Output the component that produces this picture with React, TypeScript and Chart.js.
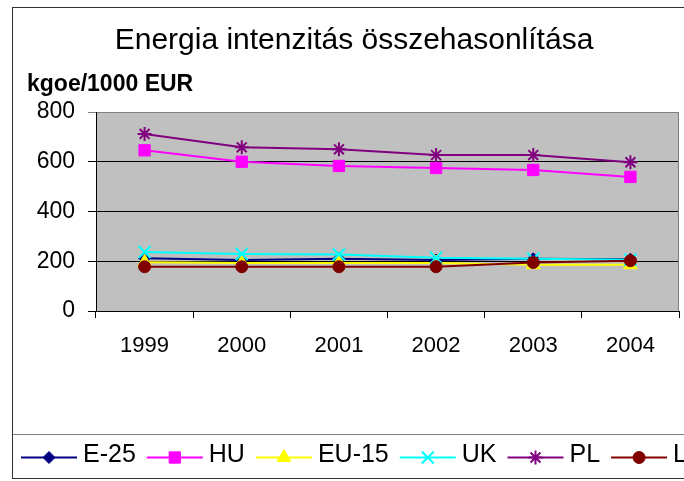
import React, { useEffect, useRef } from 'react';
import { Chart, registerables } from 'chart.js';
import { drawPoint } from 'chart.js/helpers';

Chart.register(...registerables);

// ---- data ----
const years = ['1999', '2000', '2001', '2002', '2003', '2004'];
const e25 = [212, 205, 210, 205, 210, 208];
const hu = [646, 600, 583, 575, 567, 539];
const eu15 = [196, 193, 193, 193, 186, 186];
const uk = [237, 229, 227, 214, 210, 206];
const pl = [712, 658, 650, 627, 627, 598];
const lu = [178, 178, 178, 178, 195, 202];
const seriesNames = ['E-25', 'HU', 'EU-15', 'UK', 'PL', 'L'];
const yMin = 0;
const yMax = 800;
const yStep = 200;
const chartTitle = 'Energia intenzitás összehasonlítása';
const yUnit = 'kgoe/1000 EUR';

// ---- styles ----
const FONT = '"Liberation Sans", Arial, Helvetica, sans-serif';
const W = 700;
const H = 481;
const seriesColors = ['#000080', '#FF00FF', '#FFFF00', '#00FFFF', '#800080', '#800000'];
const seriesPointStyles = ['rectRot', 'rect', 'triangle', 'crossRot', 'star', 'circle'];
const seriesPointRadius = [6, 8, 8, 8.5, 7, 6];
const seriesPointBorder = [1, 1, 1, 2, 2, 1];

const decorPlugin = {
  id: 'decor',
  beforeDraw(chart: any) {
    const { ctx, chartArea: a } = chart;
    ctx.save();
    ctx.fillStyle = '#ffffff';
    ctx.fillRect(0, 0, chart.width, chart.height);
    ctx.fillStyle = '#c0c0c0';
    ctx.fillRect(a.left, a.top, a.right - a.left, a.bottom - a.top);
    ctx.restore();
  },
  beforeDatasetsDraw(chart: any) {
    const { ctx, chartArea: a } = chart;
    ctx.save();
    ctx.strokeStyle = '#808080';
    ctx.lineWidth = 1;
    ctx.beginPath();
    ctx.moveTo(Math.round(a.right) - 0.5, a.top);
    ctx.lineTo(Math.round(a.right) - 0.5, a.bottom);
    ctx.stroke();
    ctx.restore();
  },
  afterDraw(chart: any) {
    const { ctx } = chart;
    ctx.save();
    // title
    ctx.fillStyle = '#000';
    ctx.textAlign = 'center';
    ctx.textBaseline = 'alphabetic';
    ctx.font = `30px ${FONT}`;
    ctx.fillText(chartTitle, 354, 49);
    // unit
    ctx.textAlign = 'left';
    ctx.font = `bold 23px ${FONT}`;
    ctx.fillText(yUnit, 27, 91);

    // legend box top line
    ctx.strokeStyle = '#808080';
    ctx.lineWidth = 1;
    ctx.beginPath();
    ctx.moveTo(12, 434.5);
    ctx.lineTo(chart.width, 434.5);
    ctx.stroke();

    // legend items
    const ly = 457.5;
    let x = 21;
    ctx.font = `25px ${FONT}`;
    chart.data.datasets.forEach((ds: any) => {
      ctx.strokeStyle = ds.borderColor;
      ctx.lineWidth = 2;
      ctx.beginPath();
      ctx.moveTo(x, ly);
      ctx.lineTo(x + 56, ly);
      ctx.stroke();
      ctx.fillStyle = ds.pointBackgroundColor;
      ctx.strokeStyle = ds.pointBorderColor;
      ctx.lineWidth = ds.pointBorderWidth;
      drawPoint(ctx, { pointStyle: ds.pointStyle, radius: ds.pointRadius, rotation: 0, borderWidth: ds.pointBorderWidth }, x + 28, ly);
      ctx.fillStyle = '#000';
      ctx.textAlign = 'left';
      ctx.fillText(ds.label, x + 62, 462);
      x += 62 + ctx.measureText(ds.label).width + 11;
    });

    // outer border
    ctx.strokeStyle = '#333333';
    ctx.lineWidth = 1;
    ctx.strokeRect(12.5, 7.5, chart.width + 20, 471);
    ctx.restore();
  },
};

export default function App() {
  const ref = useRef<HTMLCanvasElement | null>(null);

  useEffect(() => {
    if (!ref.current) return;
    const seriesValues = [e25, hu, eu15, uk, pl, lu];
    const chart = new Chart(ref.current, {
      type: 'line',
      data: {
        labels: years,
        datasets: seriesValues.map((vals, i) => ({
          label: seriesNames[i],
          data: vals,
          borderColor: seriesColors[i],
          backgroundColor: seriesColors[i],
          borderWidth: 2,
          pointStyle: seriesPointStyles[i],
          pointRadius: seriesPointRadius[i],
          pointBackgroundColor: seriesColors[i],
          pointBorderColor: seriesColors[i],
          pointBorderWidth: seriesPointBorder[i],
          tension: 0,
          fill: false,
          order: seriesValues.length - i,
        })),
      },
      plugins: [decorPlugin],
      options: {
        animation: false,
        responsive: false,
        devicePixelRatio: 1,
        layout: { padding: { top: 112, left: 0, right: W - 679, bottom: 0 } },
        plugins: {
          legend: { display: false },
          title: { display: false },
          tooltip: { enabled: false },
        },
        scales: {
          x: {
            type: 'category',
            offset: true,
            grid: {
              offset: true,
              drawOnChartArea: false,
              drawTicks: true,
              tickLength: 7,
              color: '#000000',
            },
            border: { display: true, color: '#000000', width: 1 },
            ticks: {
              color: '#000000',
              font: { family: FONT, size: 22 },
              padding: 15,
              maxRotation: 0,
              autoSkip: false,
            },
            afterFit(scale: any) {
              scale.height = H - 311;
            },
          },
          y: {
            min: yMin,
            max: yMax,
            grid: {
              color: (c: any) => (c.tick && c.tick.value === yMax ? '#808080' : '#000000'),
              tickLength: 8,
              drawTicks: true,
            },
            border: { display: true, color: '#000000', width: 1 },
            ticks: {
              stepSize: yStep,
              color: '#000000',
              font: { family: FONT, size: 23 },
              padding: 13,
            },
            afterFit(scale: any) {
              scale.width = 96;
            },
          },
        },
      },
    });
    return () => chart.destroy();
  }, []);

  return (
    <div style={{ position: 'fixed', left: 0, top: 0, width: 684, height: 481, overflow: 'hidden', background: '#fff' }}>
      <canvas ref={ref} width={W} height={H} style={{ position: 'absolute', left: 0, top: 0, width: W, height: H }} />
    </div>
  );
}
